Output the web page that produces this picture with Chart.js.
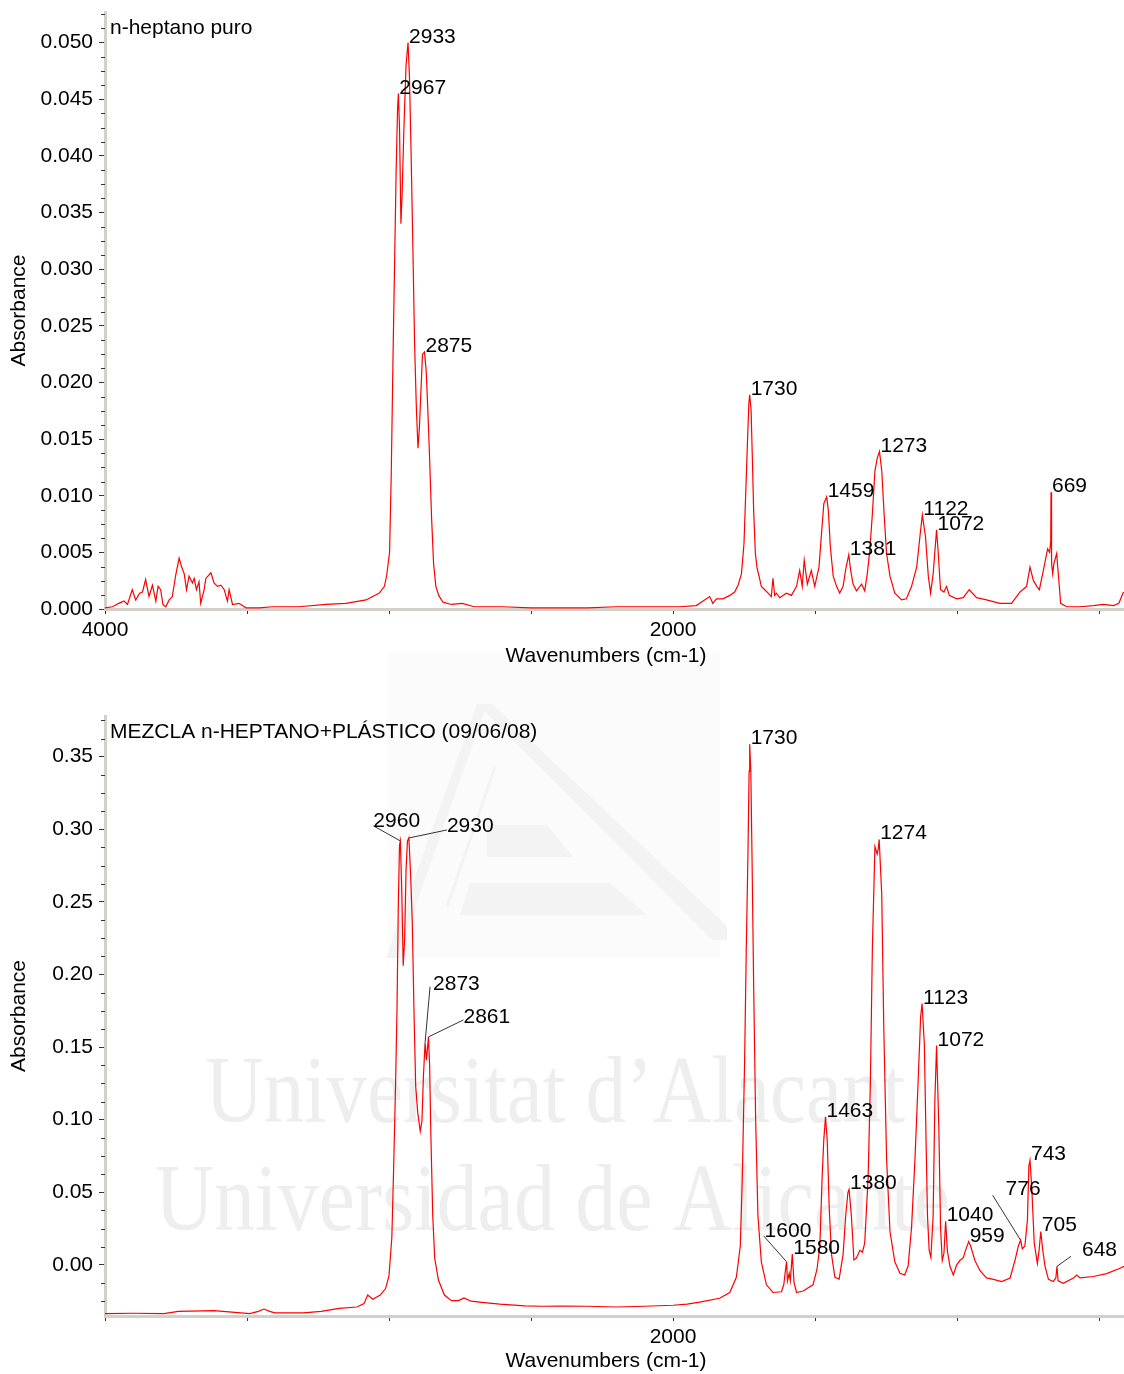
<!DOCTYPE html>
<html>
<head>
<meta charset="utf-8">
<script src="https://cdn.jsdelivr.net/npm/chart.js@4.4.1/dist/chart.umd.min.js"></script>
<style>
  html, body { margin: 0; padding: 0; background: #fff; }
  body { width: 1124px; height: 1374px; position: relative; overflow: hidden; }
  #bottomChart { position: absolute; left: 0; top: 640px; z-index: 0; }
  #topChart { position: absolute; left: 0; top: 0; z-index: 1; }
</style>
</head>
<body>
<canvas id="bottomChart" width="1124" height="734"></canvas>
<canvas id="topChart" width="1124" height="680"></canvas>
<script>
// axis ticks
const xTickValues = [4000, 3500, 3000, 2500, 2000, 1500, 1000, 500];
const topXLabels = ['4000', '2000'];
const bottomXLabels = ['2000'];
const topYTicks = [0, 0.005, 0.010, 0.015, 0.020, 0.025, 0.030, 0.035, 0.040, 0.045, 0.050];
const bottomYTicks = [0, 0.05, 0.10, 0.15, 0.20, 0.25, 0.30, 0.35];

// n-heptano puro
const topWavenumbers = [
  4000, 3974, 3951, 3933, 3921, 3904, 3892, 3878, 3868, 3857,
  3845, 3833, 3821, 3813, 3804, 3796, 3786, 3774, 3763, 3751,
  3739, 3730, 3721, 3713, 3704, 3692, 3686, 3678, 3669, 3663,
  3651, 3645, 3627, 3616, 3604, 3592, 3580, 3569, 3563, 3551,
  3528, 3504,
  3457, 3410, 3316, 3222, 3152, 3081, 3034, 3016, 3008, 2998,
  2992, 2986, 2980, 2975, 2970, 2967, 2963, 2958, 2954, 2948,
  2940, 2933, 2928, 2922, 2916, 2910, 2904, 2898, 2893, 2888,
  2882, 2875, 2869, 2864, 2858, 2850, 2843, 2835, 2825, 2810,
  2780, 2742, 2700, 2600, 2500, 2400, 2300, 2200, 2100, 2000,
  1977, 1918,
  1871, 1860, 1847, 1824, 1800, 1783, 1771, 1759, 1750, 1744,
  1738, 1733, 1730, 1725, 1721, 1716, 1710, 1704, 1697, 1689,
  1677, 1665, 1654, 1648, 1642, 1636, 1624, 1601, 1583, 1565,
  1554, 1545, 1538, 1527, 1513, 1501, 1493, 1486, 1477, 1469,
  1459, 1453, 1446, 1436, 1424, 1413, 1401, 1392, 1381, 1375,
  1366, 1354,
  1336, 1325, 1316, 1307, 1298, 1289, 1281, 1273, 1265, 1256,
  1248, 1236, 1219, 1195, 1178, 1160, 1142, 1128, 1122, 1111,
  1101, 1093, 1084, 1072, 1066, 1058, 1046, 1037, 1027, 1001,
  978, 957, 931, 896, 849, 808, 778, 755, 743, 731,
  719, 710, 696, 681, 674, 670, 669, 667, 663, 659,
  649, 643, 635, 614, 567, 520, 485, 449, 430, 414
];
const topAbsorbance = [
  0.0001, 0.0002, 0.0005, 0.0007, 0.0004, 0.0017, 0.0008, 0.0014, 0.0015, 0.0026,
  0.0011, 0.0021, 0.0007, 0.0020, 0.0017, 0.0004, 0.0002, 0.0008, 0.0011, 0.0030,
  0.0045, 0.0037, 0.0031, 0.0017, 0.0029, 0.0023, 0.0027, 0.0017, 0.0024, 0.0005,
  0.0017, 0.0027, 0.0032, 0.0023, 0.0020, 0.0021, 0.0017, 0.0007, 0.0017, 0.0004,
  0.0005, 0.0001,
  0.0001, 0.0002, 0.0002, 0.0004, 0.0005, 0.0008, 0.0014, 0.0020, 0.0030, 0.0050,
  0.0120, 0.0220, 0.0310, 0.0385, 0.0440, 0.0455, 0.0425, 0.0340, 0.0365, 0.0420,
  0.0480, 0.0500, 0.0470, 0.0400, 0.0320, 0.0235, 0.0180, 0.0142, 0.0160, 0.0190,
  0.0225, 0.0227, 0.0210, 0.0180, 0.0140, 0.0080, 0.0040, 0.0020, 0.0012, 0.0006,
  0.0004, 0.0005, 0.0002, 0.0002, 0.0001, 0.0001, 0.0001, 0.0002, 0.0002, 0.0002,
  0.0002, 0.0003,
  0.0011, 0.0005, 0.0009, 0.0009, 0.0012, 0.0015, 0.0021, 0.0031, 0.0058, 0.0102,
  0.0146, 0.0181, 0.0189, 0.0175, 0.0137, 0.0087, 0.0049, 0.0036, 0.0029, 0.0020,
  0.0017, 0.0014, 0.0011, 0.0027, 0.0012, 0.0014, 0.0010, 0.0014, 0.0012, 0.0020,
  0.0034, 0.0020, 0.0043, 0.0022, 0.0034, 0.0020, 0.0029, 0.0037, 0.0067, 0.0093,
  0.0099, 0.0087, 0.0055, 0.0029, 0.0020, 0.0014, 0.0020, 0.0035, 0.0048, 0.0035,
  0.0022, 0.0016,
  0.0022, 0.0016, 0.0031, 0.0052, 0.0084, 0.0122, 0.0133, 0.0139, 0.0122, 0.0081,
  0.0049, 0.0029, 0.0014, 0.0008, 0.0009, 0.0020, 0.0037, 0.0070, 0.0083, 0.0064,
  0.0029, 0.0014, 0.0031, 0.0070, 0.0049, 0.0017, 0.0015, 0.0020, 0.0012, 0.0009,
  0.0010, 0.0017, 0.0010, 0.0008, 0.0005, 0.0005, 0.0015, 0.0020, 0.0037, 0.0025,
  0.0020, 0.0017, 0.0034, 0.0053, 0.0050, 0.0060, 0.0103, 0.0040, 0.0031, 0.0040,
  0.0049, 0.0030, 0.0005, 0.0002, 0.0002, 0.0003, 0.0004, 0.0003, 0.0005, 0.0015
];

// MEZCLA n-HEPTANO+PLASTICO
const bottomWavenumbers = [
  4000, 3900, 3792, 3742, 3616, 3490, 3460, 3440, 3420, 3402,
  3302, 3239, 3176, 3113, 3088, 3075, 3057, 3031, 3012, 3000,
  2990, 2984, 2977, 2972, 2967, 2963, 2960, 2955, 2950, 2945,
  2940, 2935, 2930, 2924, 2918, 2912, 2906, 2899, 2890, 2884,
  2879, 2873, 2868, 2861, 2857, 2853, 2846, 2839, 2826, 2805,
  2780, 2755, 2736, 2711, 2673, 2610, 2522, 2459, 2399,
  2300, 2200, 2100, 2000, 1950, 1906,
  1836, 1800, 1777, 1763, 1756, 1748, 1742, 1736, 1732, 1730,
  1726, 1722, 1716, 1709, 1701, 1689, 1671, 1648, 1618, 1610,
  1603, 1600, 1597, 1591, 1587, 1580, 1574, 1565, 1542, 1507,
  1493, 1483, 1475, 1469, 1463, 1457, 1450, 1442, 1430, 1415,
  1401, 1392, 1384, 1380, 1372, 1363, 1354, 1342, 1333, 1325,
  1313, 1305, 1298, 1289, 1281, 1277, 1274, 1265, 1258, 1248,
  1236, 1219, 1201, 1184, 1172, 1160, 1148, 1137, 1128, 1123,
  1115, 1109, 1104, 1098, 1092, 1084, 1078, 1072, 1064, 1058,
  1052, 1046, 1040, 1034, 1025, 1013, 1001, 990, 978, 970,
  959, 952, 937, 919, 896, 872, 843, 813, 796, 784,
  776, 770, 761, 752, 747, 743, 737, 728, 717, 711,
  705, 698, 690, 678, 661, 652, 648, 644, 626, 590,
  578, 567, 520, 473, 426, 412
];
const bottomAbsorbance = [
  -0.0335, -0.0333, -0.0335, -0.0320, -0.0315, -0.0335, -0.0320, -0.0304, -0.0320, -0.0330,
  -0.0330, -0.0320, -0.0300, -0.0290, -0.0267, -0.0208, -0.0237, -0.0208, -0.0163, -0.0074,
  0.019, 0.064, 0.123, 0.174, 0.251, 0.289, 0.292, 0.257, 0.206, 0.224,
  0.272, 0.292, 0.294, 0.269, 0.236, 0.174, 0.123, 0.105, 0.092, 0.099,
  0.129, 0.153, 0.141, 0.157, 0.138, 0.093, 0.034, 0.0045, -0.0104, -0.0208,
  -0.0246, -0.0246, -0.0228, -0.0250, -0.0258, -0.0270, -0.0282, -0.0285, -0.0283,
  -0.0285, -0.0290, -0.0285, -0.0278, -0.0270, -0.0256,
  -0.0230, -0.0190, -0.0085, 0.013, 0.060, 0.139, 0.218, 0.284, 0.340, 0.3585,
  0.340, 0.284, 0.192, 0.100, 0.034, 0.0021, -0.0137, -0.0190, -0.0185, -0.0137,
  -0.0020, 0.0021, -0.0110, -0.0058, -0.0110, 0.0074, -0.0120, -0.0190, -0.0180, -0.0137,
  -0.0030, 0.0127, 0.060, 0.0864, 0.102, 0.086, 0.039, 0.0074, -0.0085, -0.0098,
  0.0074, 0.034, 0.050, 0.052, 0.034, 0.0034, 0.0047, 0.010, 0.0087, 0.015,
  0.060, 0.126, 0.218, 0.288, 0.283, 0.287, 0.293, 0.255, 0.165, 0.073,
  0.023, 0.0021, -0.0058, -0.0070, -0.0006, 0.026, 0.073, 0.126, 0.171, 0.180,
  0.152, 0.086, 0.034, 0.010, 0.005, 0.034, 0.113, 0.151, 0.095, 0.026,
  0.003, 0.008, 0.030, 0.010, -0.001, -0.007, 0.000, 0.003, 0.005, 0.010,
  0.016, 0.013, 0.003, -0.004, -0.009, -0.010, -0.0115, -0.009, 0.003, 0.013,
  0.017, 0.011, 0.013, 0.031, 0.068, 0.072, 0.054, 0.015, 0.001, 0.010,
  0.023, 0.010, -0.001, -0.010, -0.0115, -0.009, -0.001, -0.011, -0.0127, -0.009,
  -0.007, -0.009, -0.008, -0.006, -0.0023, -0.001
];

// peak annotations
const topPeakNames = ['2933', '2967', '2875', '1730', '1459', '1381', '1273', '1122', '1072', '669'];
const topPeakValues = [0.0500, 0.0455, 0.0227, 0.0189, 0.0099, 0.0048, 0.0139, 0.0083, 0.0070, 0.0103];
const bottomPeakNames = ['2960', '2930', '2873', '2861', '1730', '1600', '1580', '1463', '1380',
  '1274', '1123', '1072', '1040', '959', '776', '743', '705', '648'];
const bottomPeakValues = [0.292, 0.294, 0.153, 0.157, 0.3585, 0.0021, 0.0074, 0.102, 0.052,
  0.293, 0.180, 0.151, 0.030, 0.016, 0.017, 0.072, 0.023, -0.001];

// label offsets (px) for the ones drawn with a leader line
const leaderLayout = {
  '2960': { tx: -27, ty: -14, lx: -27, ly: -15 },
  '2930': { tx: 38, ty: -6, lx: 38, ly: -8 },
  '2873': { tx: 8, ty: -53, lx: 5, ly: -56 },
  '2861': { tx: 35, ty: -14, lx: 35, ly: -17 },
  '1600': { tx: -22, ty: -25, lx: -23, ly: -26 },
  '776': { tx: -15, ty: -45, lx: -28, ly: -45 },
  '648': { tx: 25, ty: -10, lx: 14, ly: -10 }
};

const FONT = '"Liberation Sans", Arial, Helvetica, sans-serif';
Chart.defaults.font.family = FONT;
Chart.defaults.font.size = 21;
Chart.defaults.color = '#000';

function minorTickValues(majors, min, max) {
  const step = (majors[1] - majors[0]) / 4;
  const out = [];
  const kMin = Math.ceil((min - majors[0]) / step - 1e-6);
  const kMax = Math.floor((max - majors[0]) / step + 1e-6);
  for (let k = kMin; k <= kMax; k++) {
    if (k % 4 !== 0) out.push(majors[0] + k * step);
  }
  return out;
}

function poly(ctx, pts) {
  ctx.beginPath();
  pts.forEach((p, i) => i ? ctx.lineTo(p[0], p[1]) : ctx.moveTo(p[0], p[1]));
  ctx.closePath();
  ctx.fill();
}

const overlayPlugin = {
  id: 'overlay',
  beforeDraw(chart, args, opts) {
    if (!opts.watermark) return;
    const ctx = chart.ctx;
    ctx.save();
    // faint university logo behind the spectrum
    ctx.fillStyle = '#fbfbfb';
    ctx.fillRect(388, 13, 332, 305);
    ctx.fillStyle = '#f3f3f3';
    poly(ctx, [[477, 64], [492, 64], [727, 286], [727, 300], [712, 300]]);
    poly(ctx, [[477, 64], [487, 64], [397, 318], [386, 318]]);
    poly(ctx, [[487, 185], [547, 185], [573, 217], [487, 217]]);
    poly(ctx, [[470, 243], [610, 243], [647, 275], [460, 275]]);
    ctx.strokeStyle = '#f3f3f3';
    ctx.lineWidth = 3;
    ctx.beginPath(); ctx.moveTo(495, 127); ctx.lineTo(447, 267); ctx.stroke();
    ctx.fillStyle = '#eeeeee';
    ctx.font = '96px "Liberation Serif", "Times New Roman", serif';
    ctx.textBaseline = 'alphabetic';
    ctx.textAlign = 'left';
    ctx.fillText('Universitat d\u2019Alacant', 205, 482, 700);
    ctx.fillText('Universidad de Alicante', 155, 590, 795);
    ctx.restore();
  },
  afterDraw(chart, args, opts) {
    const ctx = chart.ctx;
    const x = chart.scales.x;
    const y = chart.scales.y;
    ctx.save();
    // minor ticks on the absorbance axis
    ctx.strokeStyle = '#333';
    ctx.lineWidth = 1;
    minorTickValues(opts.majors, y.min, y.max).forEach(v => {
      const py = Math.round(y.getPixelForValue(v)) + 0.5;
      ctx.beginPath();
      ctx.moveTo(x.left - 4, py);
      ctx.lineTo(x.left, py);
      ctx.stroke();
    });
    ctx.fillStyle = '#000';
    ctx.font = '21px ' + FONT;
    // x axis title
    ctx.textAlign = 'center';
    ctx.textBaseline = 'middle';
    ctx.fillText('Wavenumbers (cm-1)', 606, opts.xTitleY);
    // title inside plot
    ctx.textAlign = 'left';
    ctx.fillText(opts.title, 110, opts.titleY, opts.titleWidth);
    // peak labels
    ctx.textBaseline = 'alphabetic';
    opts.names.forEach((name, i) => {
      const px = x.getPixelForValue(Number(name));
      const py = y.getPixelForValue(opts.values[i]);
      const o = leaderLayout[name] && opts.leaders ? leaderLayout[name] : { tx: 1, ty: 0 };
      if (o.lx !== undefined) {
        ctx.beginPath();
        ctx.moveTo(px, py);
        ctx.lineTo(px + o.lx, py + o.ly);
        ctx.stroke();
      }
      ctx.fillText(name, px + o.tx, py + o.ty);
    });
    ctx.restore();
  }
};

function makeChart(id, cfg) {
  const points = cfg.wn.map((w, i) => ({ x: w, y: cfg.abs[i] }));
  return new Chart(document.getElementById(id), {
    type: 'line',
    data: {
      datasets: [{
        data: points,
        borderColor: '#ff0000',
        borderWidth: 1.2,
        pointRadius: 0,
        tension: 0,
        fill: false
      }]
    },
    plugins: [overlayPlugin],
    options: {
      responsive: false,
      animation: false,
      devicePixelRatio: 1,
      layout: { padding: { top: cfg.padTop, left: 0, right: 0, bottom: 0 } },
      plugins: {
        legend: { display: false },
        tooltip: { enabled: false },
        overlay: {
          majors: cfg.yTicks,
          title: cfg.title,
          titleY: cfg.titleY,
          titleWidth: cfg.titleWidth,
          xTitleY: cfg.xTitleY,
          names: cfg.names,
          values: cfg.values,
          leaders: cfg.leaders,
          watermark: cfg.watermark
        }
      },
      scales: {
        x: {
          type: 'linear',
          reverse: true,
          min: 412,
          max: 4000,
          afterBuildTicks: s => { s.ticks = xTickValues.map(v => ({ value: v })); },
          afterFit: s => { s.height = cfg.xHeight; s.paddingLeft = 0; s.paddingRight = 0; },
          ticks: {
            autoSkip: false,
            maxRotation: 0,
            padding: 4,
            color: '#000',
            callback: v => cfg.xLabels.includes(String(v)) ? String(v) : ''
          },
          grid: { drawOnChartArea: false, tickLength: 5, color: '#333', lineWidth: 1 },
          border: { color: '#d4d0c8', width: 3 },
          title: { display: false }
        },
        y: {
          type: 'linear',
          min: cfg.yMin,
          max: cfg.yMax,
          afterBuildTicks: s => { s.ticks = cfg.yTicks.map(v => ({ value: v })); },
          afterFit: s => { s.width = 105; s.paddingTop = 0; s.paddingBottom = 0; },
          ticks: {
            autoSkip: false,
            padding: 6,
            color: '#000',
            callback: v => v.toFixed(cfg.digits)
          },
          grid: { drawOnChartArea: false, tickLength: 6, color: '#333', lineWidth: 1 },
          border: { color: '#d4d0c8', width: 3 },
          title: {
            display: true,
            text: 'Absorbance',
            color: '#000',
            padding: { top: 7, bottom: 0 }
          }
        }
      }
    }
  });
}

makeChart('topChart', {
  wn: topWavenumbers, abs: topAbsorbance,
  yTicks: topYTicks, yMin: 0, yMax: 0.0527, digits: 3,
  xLabels: topXLabels, padTop: 12, xHeight: 71, xTitleY: 656,
  title: 'n-heptano puro', titleY: 28, titleWidth: 146,
  names: topPeakNames, values: topPeakValues, leaders: false, watermark: false
});

makeChart('bottomChart', {
  wn: bottomWavenumbers, abs: bottomAbsorbance,
  yTicks: bottomYTicks, yMin: -0.0352, yMax: 0.378, digits: 2,
  xLabels: bottomXLabels, padTop: 76, xHeight: 58, xTitleY: 721,
  title: 'MEZCLA n-HEPTANO+PL\u00C1STICO (09/06/08)', titleY: 92, titleWidth: 436,
  names: bottomPeakNames, values: bottomPeakValues, leaders: true, watermark: true
});
</script>
</body>
</html>
